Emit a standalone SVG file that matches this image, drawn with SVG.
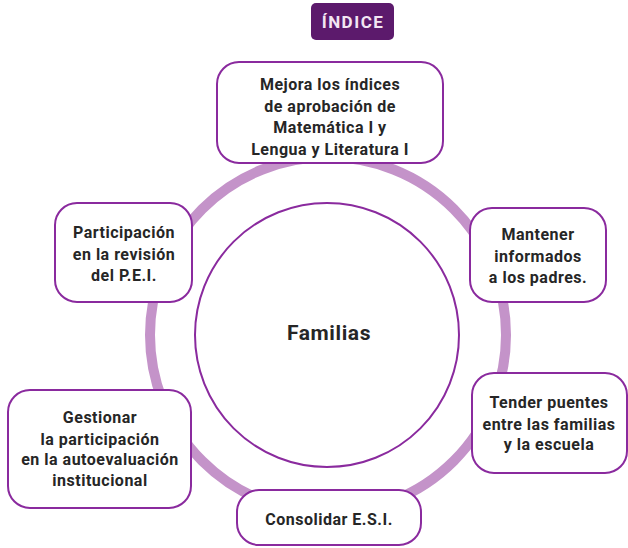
<svg xmlns="http://www.w3.org/2000/svg" width="628" height="548" viewBox="0 0 628 548">
<style>
.box{fill:#fff;stroke:#8a2a9e;stroke-width:2}
.t{font-family:Roboto,"Liberation Sans",sans-serif;font-weight:bold;font-size:16px;letter-spacing:0.5px;fill:#262626;text-anchor:middle}
</style>
<rect width="628" height="548" fill="#fff"/>
<g id="connectors">
<circle cx="328" cy="335" r="178" fill="none" stroke="#c493c9" stroke-width="10"/>
</g>
<g id="badge">
<rect x="311" y="3" width="83" height="37" rx="5" fill="#5c1a6c"/>
<text x="353" y="28" font-family="Roboto,'Liberation Sans',sans-serif" font-weight="bold" font-size="17" letter-spacing="1.5" fill="#f3e6f3" text-anchor="middle">ÍNDICE</text>
</g>
<g id="center">
<circle cx="327" cy="335" r="132" fill="#fff" stroke="#8a2a9e" stroke-width="2"/>
<text x="329" y="340" font-family="Roboto,'Liberation Sans',sans-serif" font-weight="bold" font-size="21" letter-spacing="0.6" fill="#262626" text-anchor="middle">Familias</text>
</g>
<g id="n1">
<rect class="box" x="217" y="62" width="226" height="101" rx="22"/>
<text class="t" x="330" y="90">Mejora los índices</text>
<text class="t" x="330" y="111.5">de aprobación de</text>
<text class="t" x="330" y="133">Matemática I y</text>
<text class="t" x="330" y="154.5">Lengua y Literatura I</text>
</g>
<g id="n2">
<rect class="box" x="55" y="203" width="137" height="99" rx="22"/>
<text class="t" x="124" y="238">Participación</text>
<text class="t" x="124" y="260">en la revisión</text>
<text class="t" x="124" y="281">del P.E.I.</text>
</g>
<g id="n3">
<rect class="box" x="470" y="208" width="136" height="94" rx="22"/>
<text class="t" x="538" y="240">Mantener</text>
<text class="t" x="538" y="262">informados</text>
<text class="t" x="538" y="283">a los padres.</text>
</g>
<g id="n4">
<rect class="box" x="8" y="390" width="183" height="118" rx="22"/>
<text class="t" x="100" y="423">Gestionar</text>
<text class="t" x="100" y="444.5">la participación</text>
<text class="t" x="100" y="465">en la autoevaluación</text>
<text class="t" x="100" y="486">institucional</text>
</g>
<g id="n5">
<rect class="box" x="472" y="373" width="155" height="100" rx="22"/>
<text class="t" x="549" y="408">Tender puentes</text>
<text class="t" x="549" y="430">entre las familias</text>
<text class="t" x="549" y="450">y la escuela</text>
</g>
<g id="n6">
<rect class="box" x="237" y="490" width="184" height="55" rx="22"/>
<text class="t" x="329" y="525">Consolidar E.S.I.</text>
</g>
</svg>
